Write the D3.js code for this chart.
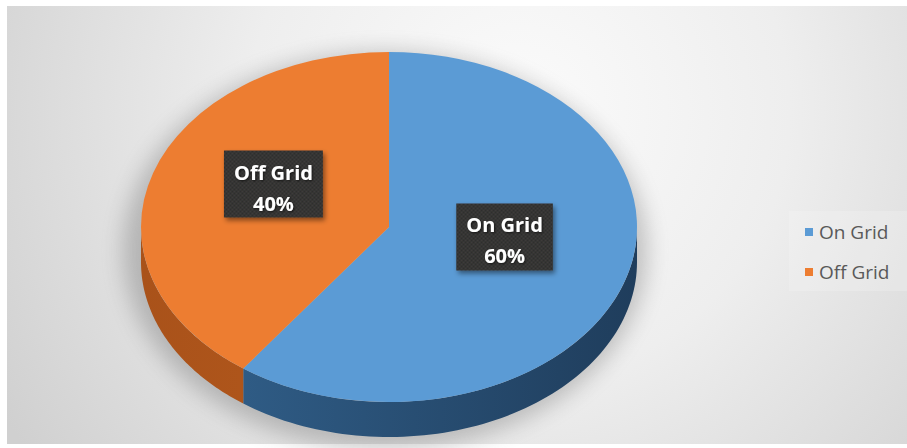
<!DOCTYPE html>
<html>
<head>
<meta charset="utf-8">
<script src="https://cdn.jsdelivr.net/npm/d3@7"></script>
<style>
  html, body { margin: 0; padding: 0; background: #ffffff; }
  svg { display: block; }
</style>
</head>
<body>
<svg id="chart" width="907" height="448"></svg>
<script>
// Share of installations by grid connection
const categories = ["On Grid", "Off Grid"];
const shares = [60, 40];
const topColors = ["#5B9BD5", "#ED7D31"];
const sideColorsLight = ["#33638f", "#a9521a"];
const sideColorsDark = ["#1f3d5c", "#c2611e"];

const W = 907, H = 448;
const svg = d3.select("#chart");
const defs = svg.append("defs");

// Plot-area background: soft radial grey gradient
const bg = defs.append("radialGradient")
  .attr("id", "bgGrad")
  .attr("gradientUnits", "userSpaceOnUse")
  .attr("cx", 520).attr("cy", 110).attr("r", 600);
bg.append("stop").attr("offset", "0").attr("stop-color", "#fbfbfb");
bg.append("stop").attr("offset", "0.45").attr("stop-color", "#eeeeee");
bg.append("stop").attr("offset", "1").attr("stop-color", "#d0d0d0");

svg.append("rect")
  .attr("x", 7).attr("y", 6)
  .attr("width", W - 7).attr("height", 438)
  .attr("fill", "url(#bgGrad)");

// Pie geometry (elliptical top, extruded side)
const cx = 389, cy = 227, rx = 248, ry = 175, depth = 35;
const yScale = ry / rx;

const pie = d3.pie().sort(null).startAngle(0).endAngle(2 * Math.PI);
const arcs = pie(shares);

const topArc = d3.arc().innerRadius(0).outerRadius(rx);
const labelArc = d3.arc().innerRadius(rx * 0.49).outerRadius(rx * 0.49);

const pt = (a, dy) => [cx + rx * Math.sin(a), cy - ry * Math.cos(a) + dy];

// Soft drop shadow behind the whole disc
const blur = defs.append("filter").attr("id", "pieShadow")
  .attr("x", "-30%").attr("y", "-30%").attr("width", "160%").attr("height", "160%");
blur.append("feGaussianBlur").attr("stdDeviation", 11);

const shadowG = svg.append("g").attr("filter", "url(#pieShadow)").attr("opacity", 0.32);
shadowG.append("ellipse")
  .attr("cx", cx - 4).attr("cy", cy + depth / 2 + 6)
  .attr("rx", rx + 14).attr("ry", ry + depth / 2 + 6)
  .attr("fill", "#555");

// Side gradients for each slice
arcs.forEach((d, i) => {
  const g = defs.append("linearGradient")
    .attr("id", "side" + i)
    .attr("gradientUnits", "userSpaceOnUse")
    .attr("x1", cx - rx).attr("y1", 0).attr("x2", cx + rx).attr("y2", 0);
  g.append("stop").attr("offset", "0").attr("stop-color", sideColorsLight[i]);
  g.append("stop").attr("offset", "1").attr("stop-color", sideColorsDark[i]);
});

// Extruded sides: only the front half (pi/2 .. 3pi/2) is visible
const line = d3.line();
const sides = svg.append("g");
arcs.forEach((d, i) => {
  const a0 = Math.max(d.startAngle, Math.PI / 2);
  const a1 = Math.min(d.endAngle, 3 * Math.PI / 2);
  if (a0 >= a1) return;
  const n = 80;
  const angles = d3.range(n + 1).map(k => a0 + (a1 - a0) * k / n);
  const top = angles.map(a => pt(a, 0));
  const bottom = angles.slice().reverse().map(a => pt(a, depth));
  sides.append("path")
    .attr("d", line(top.concat(bottom)) + "Z")
    .attr("fill", "url(#side" + i + ")");
});

// Top surface of each slice
svg.append("g")
  .attr("transform", `translate(${cx},${cy}) scale(1,${yScale})`)
  .selectAll("path")
  .data(arcs)
  .join("path")
  .attr("d", topArc)
  .attr("fill", (d, i) => topColors[i]);

// Data labels: dark textured callouts
const pat = defs.append("pattern")
  .attr("id", "labelTex")
  .attr("patternUnits", "userSpaceOnUse")
  .attr("width", 4).attr("height", 4);
pat.append("rect").attr("width", 4).attr("height", 4).attr("fill", "#3d3b3a");
pat.append("rect").attr("width", 2).attr("height", 2).attr("fill", "#2f2e2d");
pat.append("rect").attr("x", 2).attr("y", 2).attr("width", 2).attr("height", 2).attr("fill", "#2f2e2d");

const boxShadow = defs.append("filter").attr("id", "boxShadow")
  .attr("x", "-20%").attr("y", "-20%").attr("width", "150%").attr("height", "150%");
boxShadow.append("feDropShadow")
  .attr("dx", 2).attr("dy", 3).attr("stdDeviation", 2.5)
  .attr("flood-color", "#000").attr("flood-opacity", 0.45);

const txtShadow = defs.append("filter").attr("id", "txtShadow");
txtShadow.append("feDropShadow")
  .attr("dx", 1).attr("dy", 1).attr("stdDeviation", 0.8)
  .attr("flood-color", "#000").attr("flood-opacity", 0.6);

const total = d3.sum(shares);
const labels = svg.append("g");
arcs.forEach((d, i) => {
  const [lx, ly] = labelArc.centroid(d);
  const x = cx + lx;
  const y = cy + ly * yScale - 16;
  const g = labels.append("g").attr("transform", `translate(${x},${y})`);
  const box = g.append("rect").attr("fill", "url(#labelTex)").attr("filter", "url(#boxShadow)");
  const t = g.append("text")
    .attr("text-anchor", "middle")
    .attr("font-family", "'Open Sans', sans-serif")
    .attr("font-weight", 700)
    .attr("font-size", 20)
    .attr("fill", "#ffffff")
    .attr("filter", "url(#txtShadow)");
  t.append("tspan").attr("x", 0).attr("y", -5).text(categories[i]);
  t.append("tspan").attr("x", 0).attr("y", 26).text(Math.round(d.data / total * 100) + "%");
  const w = t.node().getBBox().width + 20;
  box.attr("x", -w / 2).attr("y", -34).attr("width", w).attr("height", 67);
});

// Legend at the right edge of the frame
const legend = svg.append("g").attr("transform", "translate(805,228)");
legend.append("rect")
  .attr("x", -16).attr("y", -17).attr("width", 120).attr("height", 80)
  .attr("fill", "#f6f6f6").attr("opacity", 0.25);
categories.forEach((c, i) => {
  const row = legend.append("g").attr("transform", `translate(0,${i * 40})`);
  row.append("rect").attr("width", 8).attr("height", 8).attr("fill", topColors[i]);
  row.append("text")
    .attr("x", 14).attr("y", 11)
    .attr("font-family", "'Open Sans', sans-serif")
    .attr("font-size", 19)
    .attr("fill", "#595959")
    .text(c);
});
</script>
</body>
</html>
